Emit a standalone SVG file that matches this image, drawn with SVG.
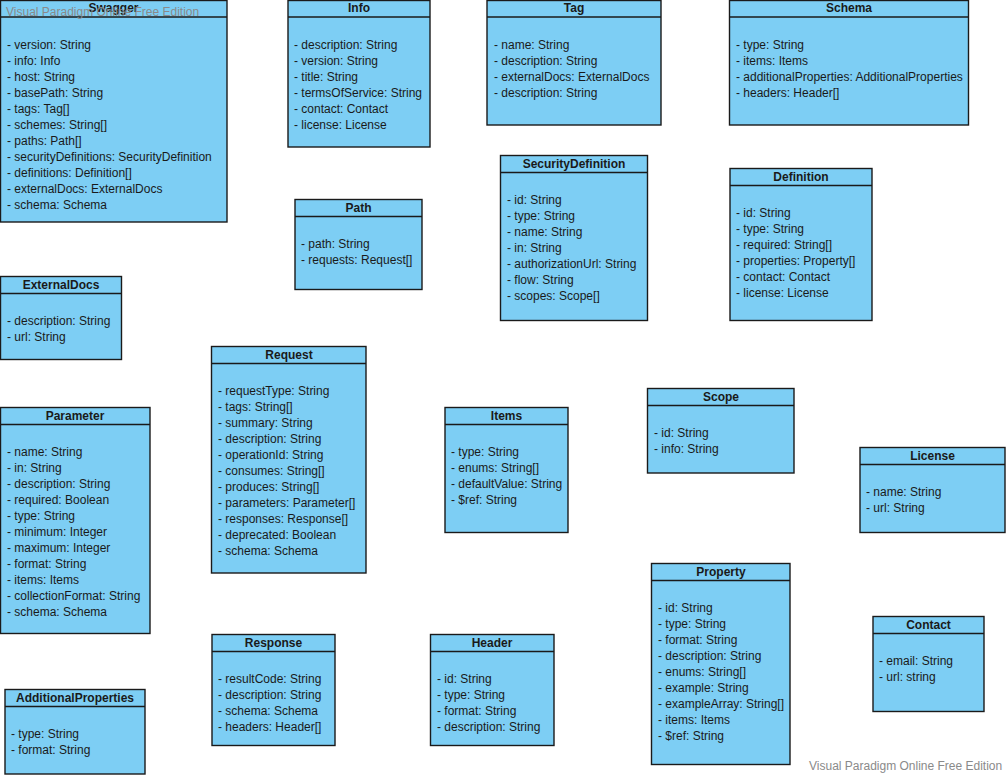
<svg xmlns="http://www.w3.org/2000/svg" width="1007" height="776" viewBox="0 0 1007 776">
<style>
.box{fill:#7dcef4;stroke:#1a1a1a;stroke-width:1.4}
.sep{stroke:#1a1a1a;stroke-width:1.4}
.t{font-family:"Liberation Sans",Arial,sans-serif;font-size:12px;fill:#1a1a1a}
.h{font-family:"Liberation Sans",Arial,sans-serif;font-size:12px;font-weight:bold;fill:#1a1a1a;text-anchor:middle}
.wm{font-family:"Liberation Sans",Arial,sans-serif;font-size:12px;fill:#8a8a8a}
</style>
<rect width="1007" height="776" fill="#ffffff"/>
<g id="nodes">
<g id="Swagger">
<rect class="box" x="0.5" y="0.5" width="226.5" height="221.5"/>
<line class="sep" x1="0.5" y1="17" x2="227" y2="17"/>
<text class="h" x="113.5" y="12">Swagger</text>
<text class="t" x="7" y="49">- version: String</text>
<text class="t" x="7" y="65">- info: Info</text>
<text class="t" x="7" y="81">- host: String</text>
<text class="t" x="7" y="97">- basePath: String</text>
<text class="t" x="7" y="113">- tags: Tag[]</text>
<text class="t" x="7" y="129">- schemes: String[]</text>
<text class="t" x="7" y="145">- paths: Path[]</text>
<text class="t" x="7" y="161">- securityDefinitions: SecurityDefinition</text>
<text class="t" x="7" y="177">- definitions: Definition[]</text>
<text class="t" x="7" y="193">- externalDocs: ExternalDocs</text>
<text class="t" x="7" y="209">- schema: Schema</text>
</g>
<g id="Info">
<rect class="box" x="288" y="0.5" width="142" height="146.5"/>
<line class="sep" x1="288" y1="17" x2="430" y2="17"/>
<text class="h" x="359" y="12">Info</text>
<text class="t" x="294" y="49">- description: String</text>
<text class="t" x="294" y="65">- version: String</text>
<text class="t" x="294" y="81">- title: String</text>
<text class="t" x="294" y="97">- termsOfService: String</text>
<text class="t" x="294" y="113">- contact: Contact</text>
<text class="t" x="294" y="129">- license: License</text>
</g>
<g id="Tag">
<rect class="box" x="487" y="0.5" width="174" height="124.5"/>
<line class="sep" x1="487" y1="17" x2="661" y2="17"/>
<text class="h" x="574" y="12">Tag</text>
<text class="t" x="494" y="49">- name: String</text>
<text class="t" x="494" y="65">- description: String</text>
<text class="t" x="494" y="81">- externalDocs: ExternalDocs</text>
<text class="t" x="494" y="97">- description: String</text>
</g>
<g id="Schema">
<rect class="box" x="729.5" y="0.5" width="239" height="124.5"/>
<line class="sep" x1="729.5" y1="17" x2="968.5" y2="17"/>
<text class="h" x="849" y="12">Schema</text>
<text class="t" x="736" y="49">- type: String</text>
<text class="t" x="736" y="65">- items: Items</text>
<text class="t" x="736" y="81">- additionalProperties: AdditionalProperties</text>
<text class="t" x="736" y="97">- headers: Header[]</text>
</g>
<g id="Path">
<rect class="box" x="295" y="199.5" width="127" height="90"/>
<line class="sep" x1="295" y1="216.5" x2="422" y2="216.5"/>
<text class="h" x="358.5" y="211.5">Path</text>
<text class="t" x="301" y="248">- path: String</text>
<text class="t" x="301" y="264">- requests: Request[]</text>
</g>
<g id="SecurityDefinition">
<rect class="box" x="500.5" y="155.5" width="147" height="165"/>
<line class="sep" x1="500.5" y1="172.5" x2="647.5" y2="172.5"/>
<text class="h" x="574" y="167.5">SecurityDefinition</text>
<text class="t" x="507" y="204">- id: String</text>
<text class="t" x="507" y="220">- type: String</text>
<text class="t" x="507" y="236">- name: String</text>
<text class="t" x="507" y="252">- in: String</text>
<text class="t" x="507" y="268">- authorizationUrl: String</text>
<text class="t" x="507" y="284">- flow: String</text>
<text class="t" x="507" y="300">- scopes: Scope[]</text>
</g>
<g id="Definition">
<rect class="box" x="730" y="168.5" width="142" height="152"/>
<line class="sep" x1="730" y1="185.5" x2="872" y2="185.5"/>
<text class="h" x="801" y="180.5">Definition</text>
<text class="t" x="736" y="217">- id: String</text>
<text class="t" x="736" y="233">- type: String</text>
<text class="t" x="736" y="249">- required: String[]</text>
<text class="t" x="736" y="265">- properties: Property[]</text>
<text class="t" x="736" y="281">- contact: Contact</text>
<text class="t" x="736" y="297">- license: License</text>
</g>
<g id="ExternalDocs">
<rect class="box" x="0.5" y="276.5" width="121" height="83"/>
<line class="sep" x1="0.5" y1="293.5" x2="121.5" y2="293.5"/>
<text class="h" x="61" y="288.5">ExternalDocs</text>
<text class="t" x="7" y="325">- description: String</text>
<text class="t" x="7" y="341">- url: String</text>
</g>
<g id="Request">
<rect class="box" x="211.5" y="346.5" width="154.5" height="226.5"/>
<line class="sep" x1="211.5" y1="363.5" x2="366" y2="363.5"/>
<text class="h" x="289" y="358.5">Request</text>
<text class="t" x="218" y="395">- requestType: String</text>
<text class="t" x="218" y="411">- tags: String[]</text>
<text class="t" x="218" y="427">- summary: String</text>
<text class="t" x="218" y="443">- description: String</text>
<text class="t" x="218" y="459">- operationId: String</text>
<text class="t" x="218" y="475">- consumes: String[]</text>
<text class="t" x="218" y="491">- produces: String[]</text>
<text class="t" x="218" y="507">- parameters: Parameter[]</text>
<text class="t" x="218" y="523">- responses: Response[]</text>
<text class="t" x="218" y="539">- deprecated: Boolean</text>
<text class="t" x="218" y="555">- schema: Schema</text>
</g>
<g id="Items">
<rect class="box" x="445" y="407.5" width="123" height="125"/>
<line class="sep" x1="445" y1="424.5" x2="568" y2="424.5"/>
<text class="h" x="506.5" y="419.5">Items</text>
<text class="t" x="451" y="456">- type: String</text>
<text class="t" x="451" y="472">- enums: String[]</text>
<text class="t" x="451" y="488">- defaultValue: String</text>
<text class="t" x="451" y="504">- $ref: String</text>
</g>
<g id="Scope">
<rect class="box" x="647.5" y="388.5" width="146.5" height="84.5"/>
<line class="sep" x1="647.5" y1="405.5" x2="794" y2="405.5"/>
<text class="h" x="721" y="400.5">Scope</text>
<text class="t" x="654" y="437">- id: String</text>
<text class="t" x="654" y="453">- info: String</text>
</g>
<g id="License">
<rect class="box" x="860" y="447.5" width="145" height="85"/>
<line class="sep" x1="860" y1="464.5" x2="1005" y2="464.5"/>
<text class="h" x="932.5" y="459.5">License</text>
<text class="t" x="866" y="496">- name: String</text>
<text class="t" x="866" y="512">- url: String</text>
</g>
<g id="Parameter">
<rect class="box" x="0.5" y="407.5" width="149.5" height="226"/>
<line class="sep" x1="0.5" y1="424.5" x2="150" y2="424.5"/>
<text class="h" x="75" y="419.5">Parameter</text>
<text class="t" x="7" y="456">- name: String</text>
<text class="t" x="7" y="472">- in: String</text>
<text class="t" x="7" y="488">- description: String</text>
<text class="t" x="7" y="504">- required: Boolean</text>
<text class="t" x="7" y="520">- type: String</text>
<text class="t" x="7" y="536">- minimum: Integer</text>
<text class="t" x="7" y="552">- maximum: Integer</text>
<text class="t" x="7" y="568">- format: String</text>
<text class="t" x="7" y="584">- items: Items</text>
<text class="t" x="7" y="600">- collectionFormat: String</text>
<text class="t" x="7" y="616">- schema: Schema</text>
</g>
<g id="Property">
<rect class="box" x="651.5" y="563.5" width="138.5" height="201"/>
<line class="sep" x1="651.5" y1="580.5" x2="790" y2="580.5"/>
<text class="h" x="721" y="575.5">Property</text>
<text class="t" x="658" y="612">- id: String</text>
<text class="t" x="658" y="628">- type: String</text>
<text class="t" x="658" y="644">- format: String</text>
<text class="t" x="658" y="660">- description: String</text>
<text class="t" x="658" y="676">- enums: String[]</text>
<text class="t" x="658" y="692">- example: String</text>
<text class="t" x="658" y="708">- exampleArray: String[]</text>
<text class="t" x="658" y="724">- items: Items</text>
<text class="t" x="658" y="740">- $ref: String</text>
</g>
<g id="Contact">
<rect class="box" x="873" y="616.5" width="111" height="95"/>
<line class="sep" x1="873" y1="633.5" x2="984" y2="633.5"/>
<text class="h" x="928.5" y="628.5">Contact</text>
<text class="t" x="879" y="665">- email: String</text>
<text class="t" x="879" y="681">- url: string</text>
</g>
<g id="Response">
<rect class="box" x="212" y="634.5" width="123" height="111"/>
<line class="sep" x1="212" y1="651.5" x2="335" y2="651.5"/>
<text class="h" x="273.5" y="646.5">Response</text>
<text class="t" x="218" y="683">- resultCode: String</text>
<text class="t" x="218" y="699">- description: String</text>
<text class="t" x="218" y="715">- schema: Schema</text>
<text class="t" x="218" y="731">- headers: Header[]</text>
</g>
<g id="Header">
<rect class="box" x="430.5" y="634.5" width="123.5" height="111"/>
<line class="sep" x1="430.5" y1="651.5" x2="554" y2="651.5"/>
<text class="h" x="492" y="646.5">Header</text>
<text class="t" x="437" y="683">- id: String</text>
<text class="t" x="437" y="699">- type: String</text>
<text class="t" x="437" y="715">- format: String</text>
<text class="t" x="437" y="731">- description: String</text>
</g>
<g id="AdditionalProperties">
<rect class="box" x="5" y="689.5" width="140" height="84.5"/>
<line class="sep" x1="5" y1="706.5" x2="145" y2="706.5"/>
<text class="h" x="75" y="701.5">AdditionalProperties</text>
<text class="t" x="11" y="738">- type: String</text>
<text class="t" x="11" y="754">- format: String</text>
</g>
</g>
<g id="connectors"></g>
<text class="wm" x="6" y="15.5">Visual Paradigm Online Free Edition</text>
<text class="wm" x="809" y="770">Visual Paradigm Online Free Edition</text>
</svg>
